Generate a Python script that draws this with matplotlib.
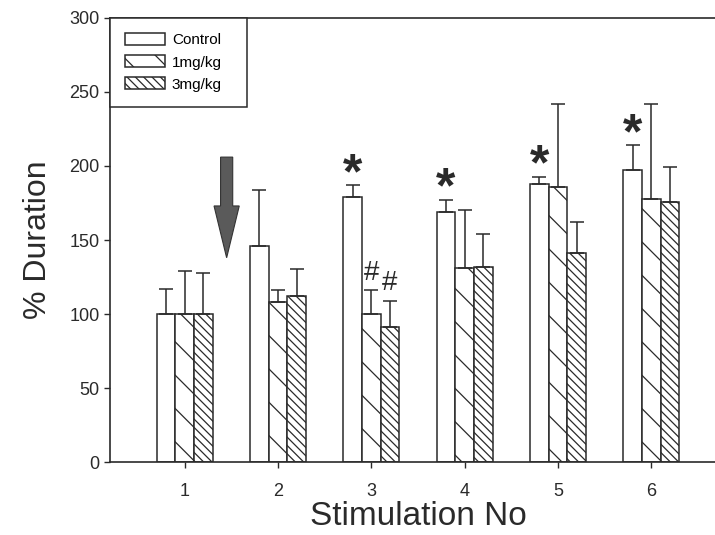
import numpy as np
import matplotlib.pyplot as plt

plt.rcParams['font.family'] = ['Liberation Sans', 'DejaVu Sans']
plt.rcParams['hatch.linewidth'] = 0.9

# data
stim = [1, 2, 3, 4, 5, 6]
labels = ['Control', '1mg/kg', '3mg/kg']
control = [100, 146, 179, 169, 188, 197]
control_err = [17, 38, 8, 8, 4.5, 17]
mg1 = [100, 108, 100, 131, 186, 178]
mg1_err = [29, 8, 16, 39, 56, 64]
mg3 = [100, 112, 91, 132, 141, 176]
mg3_err = [28, 18.5, 18, 22, 21, 23]
stars = [3, 4, 5, 6]  # control significant
hashes = [(3, 1), (3, 2)]  # (stimulation, group index)

ink = '#2a2a2a'
fig = plt.figure(figsize=(7.15, 5.35), dpi=100)
ax = fig.add_axes([0.1538, 0.1364, 0.8616, 0.83])

x = np.array(stim)
w = 0.2
series = [(control, control_err, ''), (mg1, mg1_err, '\\'), (mg3, mg3_err, '\\\\\\\\')]
for i, (vals, err, hatch) in enumerate(series):
    xs = x + (i - 1) * w
    ax.bar(xs, vals, w, color='white', edgecolor=ink, linewidth=1.1,
           hatch=hatch, label=labels[i], zorder=2)
    ax.errorbar(xs, vals, yerr=[np.zeros(len(err)), err], fmt='none',
                ecolor=ink, elinewidth=1.1, capsize=5, capthick=1.1, zorder=3)

for s in stars:
    k = s - 1
    ax.text(s - w, control[k] + control_err[k] + 7, '*', ha='center', va='center',
            fontsize=36, fontweight='bold', color=ink)
for s, g in hashes:
    k = s - 1
    vals, err, _ = series[g]
    ax.text(s + (g - 1) * w, vals[k] + err[k] + 12, '#', ha='center', va='center',
            fontsize=20, color=ink)

# arrow marking the injection
ax.arrow(1.45, 206, 0, -68, width=0.13, head_width=0.27, head_length=35,
         length_includes_head=True, color='#5a5a5a', ec='#333333', lw=0.8, zorder=4)

ax.set_xlim(0.2, 6.8)
ax.set_ylim(0, 300)
ax.set_xticks(stim)
ax.set_yticks(np.arange(0, 301, 50))
ax.tick_params(axis='both', direction='out', length=4, width=1, colors=ink, labelsize=13)
ax.tick_params(axis='x', pad=11)
for sp in ax.spines.values():
    sp.set_color(ink)
    sp.set_linewidth(1.2)

ax.set_xlabel('Stimulation No', fontsize=24, color=ink, labelpad=1)
ax.set_ylabel('% Duration', fontsize=23, color=ink, labelpad=12)

leg = ax.legend(loc='upper left', bbox_to_anchor=(0, 0.6, 0.2224, 0.4), mode='expand',
                borderaxespad=0, fancybox=False, edgecolor=ink, fontsize=11,
                handlelength=2.6, handleheight=0.8, labelspacing=0.52, borderpad=1.0,
                handletextpad=0.45, framealpha=1)
leg.get_frame().set_linewidth(1.1)

fig.savefig('out.png', dpi=100)
